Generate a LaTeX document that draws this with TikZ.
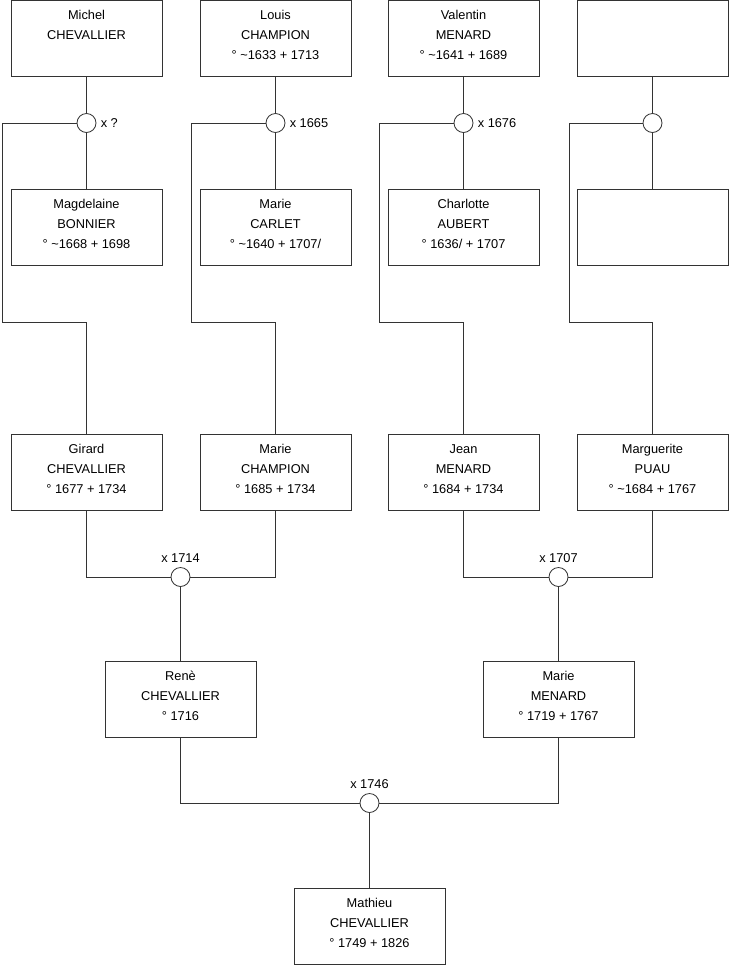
\documentclass[tikz,border=0pt]{standalone}
\usepackage{fontspec}
\setmainfont{Liberation Sans}
\begin{document}
\begin{tikzpicture}[x=1pt,y=-1pt,
  line width=0.8pt,
  pbox/.style={draw=black!80,fill=white,minimum width=151pt,minimum height=76pt,inner sep=0pt},
  ptext/.style={font=\fontsize{12.8}{20}\selectfont,align=center,inner sep=0pt,anchor=north},
  wed/.style={draw=black!80,fill=white,circle,minimum size=19pt,inner sep=0pt},
  wlab/.style={font=\fontsize{12.8}{15}\selectfont,inner sep=0pt},
  link/.style={draw=black!80}]
\useasboundingbox (0,0) rectangle (740,975);
\newcommand\pers[4]{%
  \node[pbox] (#1) at (#2) {};
  \node[ptext] (#1t) at ([yshift=-10pt]#1.north) {#3\\#4};}
% row 1
\pers{a1}{86.5,38.5}{Michel}{CHEVALLIER}
\pers{a2}{275.5,38.5}{Louis\\CHAMPION}{° \textasciitilde1633 + 1713}
\pers{a3}{463.5,38.5}{Valentin\\MENARD}{° \textasciitilde1641 + 1689}
\node[pbox] (a4) at (652.5,38.5) {};
% row 2
\pers{b1}{86.5,227.5}{Magdelaine\\BONNIER}{° \textasciitilde1668 + 1698}
\pers{b2}{275.5,227.5}{Marie\\CARLET}{° \textasciitilde1640 + 1707/}
\pers{b3}{463.5,227.5}{Charlotte\\AUBERT}{° 1636/ + 1707}
\node[pbox] (b4) at (652.5,227.5) {};
% row 3
\pers{g1}{86.5,472.5}{Girard\\CHEVALLIER}{° 1677 + 1734}
\pers{g2}{275.5,472.5}{Marie\\CHAMPION}{° 1685 + 1734}
\pers{g3}{463.5,472.5}{Jean\\MENARD}{° 1684 + 1734}
\pers{g4}{652.5,472.5}{Marguerite\\PUAU}{° \textasciitilde1684 + 1767}
% row 4
\pers{r1}{180.5,699.5}{Renè\\CHEVALLIER}{° 1716}
\pers{r2}{558.5,699.5}{Marie\\MENARD}{° 1719 + 1767}
% row 5
\pers{s1}{369.5,926}{Mathieu\\CHEVALLIER}{° 1749 + 1826}
% marriage circles row 1
\node[wed] (c1) at (86.5,123) {};
\node[wed] (c2) at (275.5,123) {};
\node[wed] (c3) at (463.5,123) {};
\node[wed] (c4) at (652.5,123) {};
\node[wlab,anchor=west] (l1) at ([xshift=4pt]c1.east) {x ?};
\node[wlab,anchor=west] (l2) at ([xshift=4pt]c2.east) {x 1665};
\node[wlab,anchor=west] (l3) at ([xshift=4pt]c3.east) {x 1676};
% lower marriage circles
\node[wed] (m1) at (180.5,577) {};
\node[wed] (m2) at (558.5,577) {};
\node[wed] (m3) at (369.5,803) {};
\node[wlab,anchor=south] (k1) at ([yshift=4pt]m1.north) {x 1714};
\node[wlab,anchor=south] (k2) at ([yshift=4pt]m2.north) {x 1707};
\node[wlab,anchor=south] (k3) at ([yshift=4pt]m3.north) {x 1746};
% connectors row 1 -> row 2
\foreach \i in {1,2,3,4} {
  \draw[link] (a\i.south) -- (c\i.north);
  \draw[link] (c\i.south) -- (b\i.north);
}
\draw[link] (c1.west) -| (2.5,322) -| (g1.north);
\draw[link] (c2.west) -| (191,322) -| (g2.north);
\draw[link] (c3.west) -| (379,322) -| (g3.north);
\draw[link] (c4.west) -| (569,322) -| (g4.north);
% row 3 -> row 4
\draw[link] (g1.south) |- (m1.west);
\draw[link] (g2.south) |- (m1.east);
\draw[link] (m1.south) -- (r1.north);
\draw[link] (g3.south) |- (m2.west);
\draw[link] (g4.south) |- (m2.east);
\draw[link] (m2.south) -- (r2.north);
% row 4 -> row 5
\draw[link] (r1.south) |- (m3.west);
\draw[link] (r2.south) |- (m3.east);
\draw[link] (m3.south) -- (s1.north);
\end{tikzpicture}
\end{document}
